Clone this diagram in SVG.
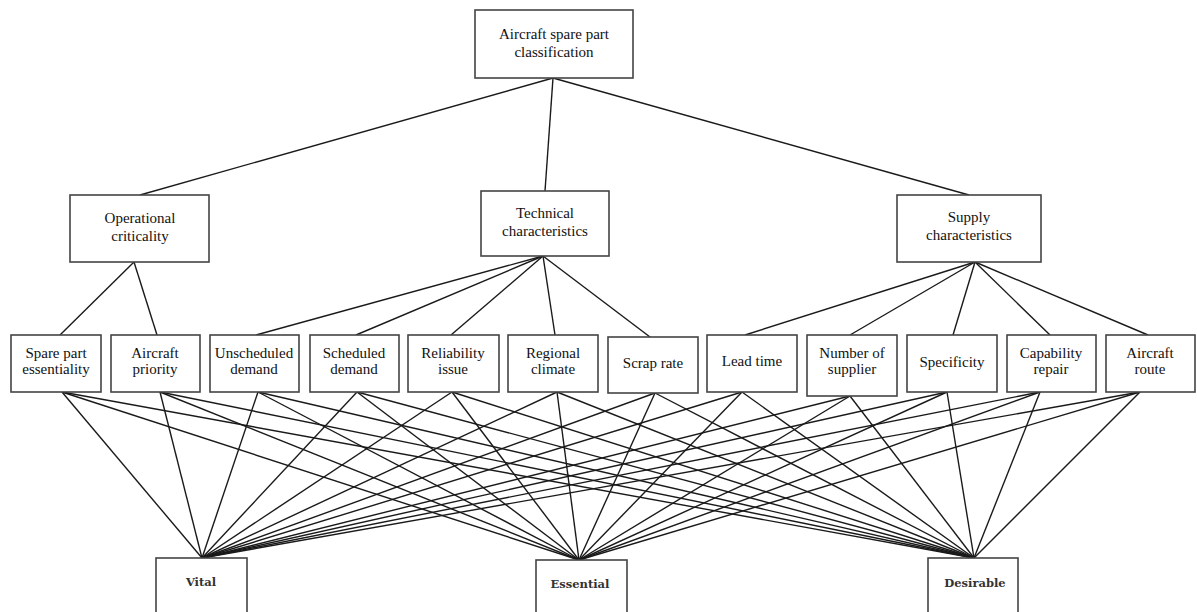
<svg xmlns="http://www.w3.org/2000/svg" width="1197" height="612" viewBox="0 0 1197 612">
<style>
.box{fill:#fff;stroke:#444;stroke-width:1.6}
.t{font-family:"Liberation Serif","Times New Roman",serif;font-size:15px;fill:#111;text-anchor:middle}
.b{font-family:"DejaVu Serif","Liberation Serif",serif;font-size:11.5px;fill:#333;text-anchor:middle;font-weight:bold}
.c line{stroke:#1a1a1a;stroke-width:1.4}
</style>
<rect width="1197" height="612" fill="#fff"/>
<g class="c" id="connectors">
<line x1="553" y1="78" x2="140" y2="195"/>
<line x1="553" y1="78" x2="545" y2="191"/>
<line x1="553" y1="78" x2="969" y2="195"/>
<line x1="134" y1="262" x2="60" y2="335"/>
<line x1="134" y1="262" x2="157" y2="335"/>
<line x1="543" y1="256" x2="256" y2="335"/>
<line x1="543" y1="256" x2="356" y2="335"/>
<line x1="543" y1="256" x2="451" y2="335"/>
<line x1="543" y1="256" x2="555" y2="335"/>
<line x1="543" y1="256" x2="650" y2="337"/>
<line x1="975" y1="262" x2="745" y2="335"/>
<line x1="975" y1="262" x2="850" y2="335"/>
<line x1="975" y1="262" x2="953" y2="335"/>
<line x1="975" y1="262" x2="1050" y2="335"/>
<line x1="975" y1="262" x2="1148" y2="335"/>
<line x1="62" y1="392" x2="202" y2="558"/><line x1="62" y1="392" x2="579" y2="560"/><line x1="62" y1="392" x2="974" y2="558"/>
<line x1="160" y1="392" x2="202" y2="558"/><line x1="160" y1="392" x2="579" y2="560"/><line x1="160" y1="392" x2="974" y2="558"/>
<line x1="258" y1="392" x2="202" y2="558"/><line x1="258" y1="392" x2="579" y2="560"/><line x1="258" y1="392" x2="974" y2="558"/>
<line x1="357" y1="392" x2="202" y2="558"/><line x1="357" y1="392" x2="579" y2="560"/><line x1="357" y1="392" x2="974" y2="558"/>
<line x1="452" y1="392" x2="202" y2="558"/><line x1="452" y1="392" x2="579" y2="560"/><line x1="452" y1="392" x2="974" y2="558"/>
<line x1="557" y1="392" x2="202" y2="558"/><line x1="557" y1="392" x2="579" y2="560"/><line x1="557" y1="392" x2="974" y2="558"/>
<line x1="655" y1="393" x2="202" y2="558"/><line x1="655" y1="393" x2="579" y2="560"/><line x1="655" y1="393" x2="974" y2="558"/>
<line x1="742" y1="392" x2="202" y2="558"/><line x1="742" y1="392" x2="579" y2="560"/><line x1="742" y1="392" x2="974" y2="558"/>
<line x1="850" y1="396" x2="202" y2="558"/><line x1="850" y1="396" x2="579" y2="560"/><line x1="850" y1="396" x2="974" y2="558"/>
<line x1="947" y1="392" x2="202" y2="558"/><line x1="947" y1="392" x2="579" y2="560"/><line x1="947" y1="392" x2="974" y2="558"/>
<line x1="1040" y1="392" x2="202" y2="558"/><line x1="1040" y1="392" x2="579" y2="560"/><line x1="1040" y1="392" x2="974" y2="558"/>
<line x1="1140" y1="392" x2="202" y2="558"/><line x1="1140" y1="392" x2="579" y2="560"/><line x1="1140" y1="392" x2="974" y2="558"/>
</g>
<g id="root"><rect class="box" x="475" y="10" width="158" height="68"/><text class="t" x="554" y="39">Aircraft spare part</text><text class="t" x="554" y="57">classification</text></g>
<g id="operational"><rect class="box" x="70" y="195" width="139" height="67"/><text class="t" x="140" y="223">Operational</text><text class="t" x="140" y="241">criticality</text></g>
<g id="technical"><rect class="box" x="481" y="191" width="128" height="65"/><text class="t" x="545" y="218">Technical</text><text class="t" x="545" y="236">characteristics</text></g>
<g id="supply"><rect class="box" x="897" y="195" width="144" height="67"/><text class="t" x="969" y="222">Supply</text><text class="t" x="969" y="240">characteristics</text></g>
<g id="spare"><rect class="box" x="11" y="335" width="90" height="57"/><text class="t" x="56" y="358">Spare part</text><text class="t" x="56" y="374">essentiality</text></g>
<g id="priority"><rect class="box" x="111" y="335" width="89" height="57"/><text class="t" x="155" y="358">Aircraft</text><text class="t" x="155" y="374">priority</text></g>
<g id="unscheduled"><rect class="box" x="210" y="335" width="89" height="57"/><text class="t" x="254" y="358">Unscheduled</text><text class="t" x="254" y="374">demand</text></g>
<g id="scheduled"><rect class="box" x="310" y="335" width="89" height="57"/><text class="t" x="354" y="358">Scheduled</text><text class="t" x="354" y="374">demand</text></g>
<g id="reliability"><rect class="box" x="408" y="335" width="91" height="57"/><text class="t" x="453" y="358">Reliability</text><text class="t" x="453" y="374">issue</text></g>
<g id="regional"><rect class="box" x="508" y="335" width="90" height="57"/><text class="t" x="553" y="358">Regional</text><text class="t" x="553" y="374">climate</text></g>
<g id="scrap"><rect class="box" x="608" y="337" width="90" height="56"/><text class="t" x="653" y="368">Scrap rate</text></g>
<g id="lead"><rect class="box" x="707" y="335" width="90" height="57"/><text class="t" x="752" y="366">Lead time</text></g>
<g id="number"><rect class="box" x="807" y="335" width="90" height="61"/><text class="t" x="852" y="358">Number of</text><text class="t" x="852" y="374">supplier</text></g>
<g id="specificity"><rect class="box" x="907" y="335" width="90" height="57"/><text class="t" x="952" y="367">Specificity</text></g>
<g id="capability"><rect class="box" x="1007" y="335" width="89" height="57"/><text class="t" x="1051" y="358">Capability</text><text class="t" x="1051" y="374">repair</text></g>
<g id="route"><rect class="box" x="1106" y="335" width="89" height="57"/><text class="t" x="1150" y="358">Aircraft</text><text class="t" x="1150" y="374">route</text></g>
<g id="vital"><rect class="box" x="156" y="558" width="91" height="70"/><text class="b" x="201" y="586">Vital</text></g>
<g id="essential"><rect class="box" x="536" y="560" width="91" height="70"/><text class="b" x="580" y="588">Essential</text></g>
<g id="desirable"><rect class="box" x="928" y="558" width="90" height="70"/><text class="b" x="975" y="587">Desirable</text></g>
</svg>
